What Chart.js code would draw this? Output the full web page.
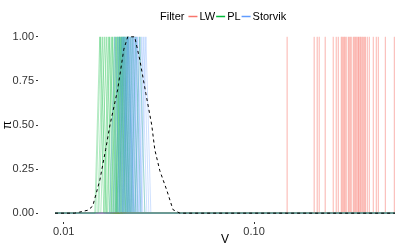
<!DOCTYPE html>
<html>
<head>
<meta charset="utf-8">
<script src="https://cdn.jsdelivr.net/npm/chart.js@4"></script>
<style>
  html, body { margin: 0; padding: 0; background: #fff; }
  #wrap { width: 415px; height: 249px; }
</style>
</head>
<body>
<div id="wrap"><canvas id="c" width="415" height="249"></canvas></div>
<script>
// grid ends shared by every curve
const V_MIN = 0.009, V_MAX = 0.55;
const xTicks = [0.01, 0.1];
const yTicks = [0, 0.25, 0.5, 0.75, 1];
const filters = ["LW", "PL", "Storvik"];
const filterColors = ["#F8766D", "#00BA38", "#619CFF"];

// LW: degenerate posteriors, one spike each
const lwPeaks = [
  0.1492, 0.2069, 0.2146, 0.2199, 0.2364, 0.2605, 0.2702, 0.2769, 0.2871, 0.2905,
  0.2941, 0.2977, 0.3010, 0.3050, 0.3125, 0.3160, 0.3201, 0.3240, 0.3320, 0.3360,
  0.3402, 0.3440, 0.3485, 0.3540, 0.3560, 0.3614, 0.3650, 0.3703, 0.3748, 0.3800,
  0.3850, 0.3933, 0.4030, 0.4230, 0.4386, 0.4494, 0.4893, 0.5456
];

// PL / Storvik: [foot left, peak, foot right]
const plCurves = [
  [0.01456, 0.01547, 0.01624], [0.01474, 0.01566, 0.01664], [0.01510, 0.01604, 0.01684],
  [0.01528, 0.01644, 0.01746], [0.01566, 0.01684, 0.01789], [0.01624, 0.01725, 0.01833],
  [0.01644, 0.01746, 0.01878], [0.01684, 0.01789, 0.01901], [0.01705, 0.01811, 0.01924],
  [0.01746, 0.01855, 0.01971], [0.01768, 0.01878, 0.01995], [0.01789, 0.01901, 0.02020],
  [0.01811, 0.01924, 0.02044], [0.01833, 0.01948, 0.02069], [0.01855, 0.01971, 0.02094],
  [0.01878, 0.01971, 0.02120], [0.01878, 0.01995, 0.02120], [0.01901, 0.02020, 0.02146],
  [0.01901, 0.02020, 0.02172], [0.01924, 0.02044, 0.02172], [0.01948, 0.02069, 0.02199],
  [0.01948, 0.02069, 0.02225], [0.01971, 0.02094, 0.02225], [0.01995, 0.02120, 0.02252],
  [0.02020, 0.02146, 0.02280], [0.02044, 0.02172, 0.02308], [0.02069, 0.02199, 0.02336],
  [0.02120, 0.02252, 0.02393], [0.02172, 0.02308, 0.02452], [0.02252, 0.02393, 0.02543],
  [0.02364, 0.02512, 0.02669]
];
const storvikCurves = [
  [0.01746, 0.01855, 0.01971], [0.01811, 0.01924, 0.02044], [0.01855, 0.01971, 0.02094],
  [0.01901, 0.02020, 0.02146], [0.01924, 0.02044, 0.02172], [0.01948, 0.02069, 0.02199],
  [0.01971, 0.02094, 0.02225], [0.01995, 0.02120, 0.02252], [0.02020, 0.02146, 0.02280],
  [0.02044, 0.02172, 0.02308], [0.02044, 0.02172, 0.02336], [0.02069, 0.02199, 0.02336],
  [0.02094, 0.02225, 0.02364], [0.02120, 0.02252, 0.02393], [0.02146, 0.02280, 0.02422],
  [0.02172, 0.02308, 0.02452], [0.02199, 0.02336, 0.02482], [0.02225, 0.02364, 0.02512],
  [0.02252, 0.02393, 0.02543], [0.02280, 0.02422, 0.02574], [0.02308, 0.02452, 0.02605],
  [0.02364, 0.02512, 0.02669], [0.02422, 0.02574, 0.02734], [0.02482, 0.02637, 0.02801],
  [0.02543, 0.02702, 0.02870]
];

// true posterior (dashed)
const trueV = [0.009, 0.0114, 0.0121, 0.0134, 0.0142, 0.0148, 0.0155, 0.0166, 0.0175, 0.0192, 0.0207,
  0.0217, 0.0236, 0.0251, 0.0270, 0.0290, 0.0301, 0.0320, 0.0348, 0.0375, 0.0408, 0.55];
const trueDens = [0, 0, 0.006, 0.017, 0.04, 0.11, 0.19, 0.36, 0.50, 0.70, 0.93,
  1, 1, 0.87, 0.68, 0.50, 0.36, 0.24, 0.13, 0.02, 0, 0];

Chart.defaults.font.family = "'Liberation Sans', Arial, sans-serif";

function alpha(hex, a) {
  const n = parseInt(hex.slice(1), 16);
  return `rgba(${n >> 16},${(n >> 8) & 255},${n & 255},${a})`;
}

function lineSet(points, color) {
  return {
    data: points, borderColor: alpha(color, 0.3), borderWidth: 1,
    pointRadius: 0, tension: 0, fill: false, order: 1
  };
}

const spike = p => [{ x: V_MIN, y: 0 }, { x: p, y: 0 }, { x: p, y: 1 }, { x: p, y: 0 }, { x: V_MAX, y: 0 }];
const hump = c => [{ x: V_MIN, y: 0 }, { x: c[0], y: 0 }, { x: c[1], y: 1 }, { x: c[2], y: 0 }, { x: V_MAX, y: 0 }];

const datasets = [{
  data: trueV.map((v, i) => ({ x: v, y: trueDens[i] })),
  borderColor: "#000", borderWidth: 1, borderDash: [3, 3],
  pointRadius: 0, tension: 0, fill: false, order: 0
}];
// replicates interleaved across filters, like one grouped geom_line
const nRep = Math.max(lwPeaks.length, plCurves.length, storvikCurves.length);
for (let i = 0; i < nRep; i++) {
  if (i < storvikCurves.length) datasets.push(lineSet(hump(storvikCurves[i]), filterColors[2]));
  if (i < plCurves.length) datasets.push(lineSet(hump(plCurves[i]), filterColors[1]));
  if (i < lwPeaks.length) datasets.push(lineSet(spike(lwPeaks[i]), filterColors[0]));
}

// ggplot-style 5% expansion on the log axis
const lmin = Math.log10(V_MIN), lmax = Math.log10(V_MAX);
const pad = (lmax - lmin) * 0.05;

const legendPlugin = {
  id: "ggLegend",
  afterDraw(chart) {
    const ctx = chart.ctx;
    ctx.save();
    ctx.font = "11px 'Liberation Sans', Arial, sans-serif";
    ctx.textBaseline = "middle";
    ctx.fillStyle = "#000";
    let x = 160;
    const y = 16.5;
    ctx.fillText("Filter", x, y);
    x += ctx.measureText("Filter").width + 4;
    filters.forEach((f, i) => {
      ctx.strokeStyle = filterColors[i];
      ctx.lineWidth = 1.5;
      ctx.beginPath();
      ctx.moveTo(x, y);
      ctx.lineTo(x + 9, y);
      ctx.stroke();
      x += 11;
      ctx.fillText(f, x, y);
      x += ctx.measureText(f).width + 1;
    });
    ctx.restore();
  }
};

new Chart(document.getElementById("c"), {
  type: "line",
  data: { datasets },
  plugins: [legendPlugin],
  options: {
    responsive: false, animation: false, events: [],
    layout: { padding: { top: 28, right: 3, left: 0, bottom: 0 } },
    plugins: { legend: { display: false }, tooltip: { enabled: false } },
    scales: {
      x: {
        type: "logarithmic",
        min: Math.pow(10, lmin - pad), max: Math.pow(10, lmax + pad),
        afterBuildTicks: s => { s.ticks = xTicks.map(v => ({ value: v })); },
        afterFit: s => { s.height = 27; },
        ticks: { callback: v => Number(v).toFixed(2), color: "#333", font: { size: 11 }, padding: 1, maxRotation: 0, autoSkip: false },
        grid: { drawOnChartArea: false, drawTicks: true, tickLength: 2, color: "#333" },
        border: { display: false },
        title: { display: true, text: "V", color: "#000", font: { size: 12 }, padding: { top: 0, bottom: 2 } }
      },
      y: {
        type: "linear", min: -0.05, max: 1.05,
        afterBuildTicks: s => { s.ticks = yTicks.map(v => ({ value: v })); },
        afterFit: s => { s.width = 38; },
        ticks: { callback: v => Number(v).toFixed(2), color: "#333", font: { size: 11 }, padding: 2 },
        grid: { drawOnChartArea: false, drawTicks: true, tickLength: 2, color: "#333" },
        border: { display: false },
        title: { display: true, text: "π", color: "#000", font: { size: 12 }, padding: 0 }
      }
    }
  }
});
</script>
</body>
</html>
